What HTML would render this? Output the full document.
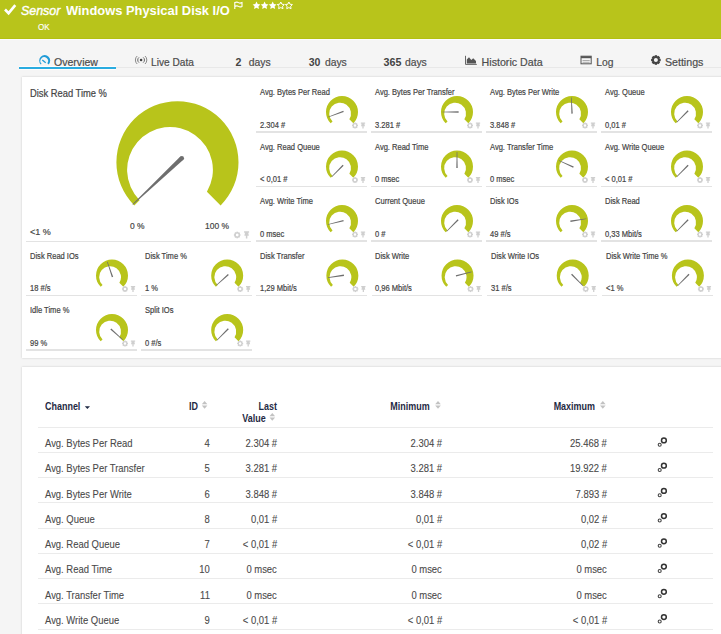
<!DOCTYPE html>
<html><head><meta charset="utf-8"><style>
html,body{margin:0;padding:0;}
body{width:721px;height:634px;overflow:hidden;position:relative;background:#f5f5f5;font-family:"Liberation Sans",sans-serif;}
.t{position:absolute;white-space:nowrap;-webkit-text-stroke:0.2px currentColor;}
svg{position:absolute;left:0;top:0;}
</style></head><body>
<div style="position:absolute;left:0;top:0;width:721px;height:39px;background:#b8c41b"></div><div style="position:absolute;left:0;top:38px;width:721px;height:1px;background:#b3c010"></div><div style="position:absolute;left:0;top:39px;width:721px;height:1px;background:#fcfcfc"></div><div class="t" style="left:21px;top:3.9px;font-size:13px;line-height:13px;color:#fff;font-weight:400;font-style:italic;transform:scaleX(0.955);transform-origin:left center;-webkit-text-stroke:0.4px #fff;">Sensor</div><div class="t" style="left:65.7px;top:3.5px;font-size:13.7px;line-height:13.7px;color:#fff;font-weight:700;font-style:normal;transform:scaleX(0.941);transform-origin:left center;-webkit-text-stroke:0;">Windows Physical Disk I/O</div><div class="t" style="left:37.8px;top:22.57px;font-size:8.3px;line-height:8.3px;color:#fff;font-weight:400;font-style:normal;transform:scaleX(0.97);transform-origin:left center;-webkit-text-stroke:0.15px #fff;">OK</div><div style="position:absolute;left:116px;top:67px;width:605px;height:1px;background:#e8e8e8"></div><div style="position:absolute;left:19px;top:66px;width:97px;height:4px;background:#fdfdfd"></div><div style="position:absolute;left:19px;top:67px;width:97px;height:2px;background:#2aace0"></div><div class="t" style="left:54px;top:57.06px;font-size:10.56px;line-height:10.56px;color:#4d4d4d;font-weight:400;font-style:normal;">Overview</div><div class="t" style="left:151.1px;top:57.81px;font-size:10.15px;line-height:10.15px;color:#4d4d4d;font-weight:400;font-style:normal;">Live Data</div><div class="t" style="left:235.4px;top:57.03px;font-size:10.6px;line-height:10.6px;color:#444;font-weight:700;font-style:normal;-webkit-text-stroke:0;">2</div><div class="t" style="left:248.7px;top:57.62px;font-size:10.37px;line-height:10.37px;color:#4d4d4d;font-weight:400;font-style:normal;">days</div><div class="t" style="left:308.7px;top:57.09px;font-size:10.52px;line-height:10.52px;color:#444;font-weight:700;font-style:normal;-webkit-text-stroke:0;">30</div><div class="t" style="left:324.9px;top:57.62px;font-size:10.37px;line-height:10.37px;color:#4d4d4d;font-weight:400;font-style:normal;">days</div><div class="t" style="left:383.5px;top:56.92px;font-size:10.73px;line-height:10.73px;color:#444;font-weight:700;font-style:normal;-webkit-text-stroke:0;">365</div><div class="t" style="left:404.9px;top:57.62px;font-size:10.37px;line-height:10.37px;color:#4d4d4d;font-weight:400;font-style:normal;">days</div><div class="t" style="left:481.6px;top:56.97px;font-size:10.67px;line-height:10.67px;color:#4d4d4d;font-weight:400;font-style:normal;">Historic Data</div><div class="t" style="left:596.2px;top:57.67px;font-size:10.31px;line-height:10.31px;color:#4d4d4d;font-weight:400;font-style:normal;">Log</div><div class="t" style="left:664.9px;top:56.98px;font-size:10.66px;line-height:10.66px;color:#4d4d4d;font-weight:400;font-style:normal;">Settings</div><div style="position:absolute;left:22px;top:77px;width:720px;height:281px;background:#fff;box-shadow:0 0 2px rgba(0,0,0,0.18)"></div><div style="position:absolute;left:26px;top:240.5px;width:225px;height:1.5px;background:#e3e3e3"></div><div class="t" style="left:29.8px;top:88.87px;font-size:10.2px;line-height:10.2px;color:#454545;font-weight:400;font-style:normal;transform:scaleX(0.918);transform-origin:left center;">Disk Read Time %</div><div class="t" style="left:29.8px;top:227px;font-size:9.8px;line-height:9.8px;color:#454545;font-weight:400;font-style:normal;transform:scaleX(0.92);transform-origin:left center;">&lt;1 %</div><div class="t" style="left:130.4px;top:221.61px;font-size:9.2px;line-height:9.2px;color:#444;font-weight:400;font-style:normal;transform:scaleX(0.92);transform-origin:left center;">0 %</div><div class="t" style="left:205px;top:221.61px;font-size:9.2px;line-height:9.2px;color:#444;font-weight:400;font-style:normal;transform:scaleX(0.92);transform-origin:left center;">100 %</div><div style="position:absolute;left:256px;top:131.15px;width:110.75px;height:1.5px;background:#e3e3e3"></div><div class="t" style="left:259.9px;top:88.29px;font-size:8.4px;line-height:8.4px;color:#454545;font-weight:400;font-style:normal;transform:scaleX(0.9);transform-origin:left center;">Avg. Bytes Per Read</div><div class="t" style="left:259.9px;top:120.79px;font-size:8.4px;line-height:8.4px;color:#454545;font-weight:400;font-style:normal;transform:scaleX(0.9);transform-origin:left center;">2.304 #</div><div style="position:absolute;left:371px;top:131.15px;width:110.75px;height:1.5px;background:#e3e3e3"></div><div class="t" style="left:374.9px;top:88.29px;font-size:8.4px;line-height:8.4px;color:#454545;font-weight:400;font-style:normal;transform:scaleX(0.9);transform-origin:left center;">Avg. Bytes Per Transfer</div><div class="t" style="left:374.9px;top:120.79px;font-size:8.4px;line-height:8.4px;color:#454545;font-weight:400;font-style:normal;transform:scaleX(0.9);transform-origin:left center;">3.281 #</div><div style="position:absolute;left:486px;top:131.15px;width:110.75px;height:1.5px;background:#e3e3e3"></div><div class="t" style="left:489.9px;top:88.29px;font-size:8.4px;line-height:8.4px;color:#454545;font-weight:400;font-style:normal;transform:scaleX(0.9);transform-origin:left center;">Avg. Bytes Per Write</div><div class="t" style="left:489.9px;top:120.79px;font-size:8.4px;line-height:8.4px;color:#454545;font-weight:400;font-style:normal;transform:scaleX(0.9);transform-origin:left center;">3.848 #</div><div style="position:absolute;left:601px;top:131.15px;width:110.75px;height:1.5px;background:#e3e3e3"></div><div class="t" style="left:604.9px;top:88.29px;font-size:8.4px;line-height:8.4px;color:#454545;font-weight:400;font-style:normal;transform:scaleX(0.9);transform-origin:left center;">Avg. Queue</div><div class="t" style="left:604.9px;top:120.79px;font-size:8.4px;line-height:8.4px;color:#454545;font-weight:400;font-style:normal;transform:scaleX(0.9);transform-origin:left center;">0,01 #</div><div style="position:absolute;left:256px;top:185.65px;width:110.75px;height:1.5px;background:#e3e3e3"></div><div class="t" style="left:259.9px;top:142.79px;font-size:8.4px;line-height:8.4px;color:#454545;font-weight:400;font-style:normal;transform:scaleX(0.9);transform-origin:left center;">Avg. Read Queue</div><div class="t" style="left:259.9px;top:175.29px;font-size:8.4px;line-height:8.4px;color:#454545;font-weight:400;font-style:normal;transform:scaleX(0.9);transform-origin:left center;">&lt; 0,01 #</div><div style="position:absolute;left:371px;top:185.65px;width:110.75px;height:1.5px;background:#e3e3e3"></div><div class="t" style="left:374.9px;top:142.79px;font-size:8.4px;line-height:8.4px;color:#454545;font-weight:400;font-style:normal;transform:scaleX(0.9);transform-origin:left center;">Avg. Read Time</div><div class="t" style="left:374.9px;top:175.29px;font-size:8.4px;line-height:8.4px;color:#454545;font-weight:400;font-style:normal;transform:scaleX(0.9);transform-origin:left center;">0 msec</div><div style="position:absolute;left:486px;top:185.65px;width:110.75px;height:1.5px;background:#e3e3e3"></div><div class="t" style="left:489.9px;top:142.79px;font-size:8.4px;line-height:8.4px;color:#454545;font-weight:400;font-style:normal;transform:scaleX(0.9);transform-origin:left center;">Avg. Transfer Time</div><div class="t" style="left:489.9px;top:175.29px;font-size:8.4px;line-height:8.4px;color:#454545;font-weight:400;font-style:normal;transform:scaleX(0.9);transform-origin:left center;">0 msec</div><div style="position:absolute;left:601px;top:185.65px;width:110.75px;height:1.5px;background:#e3e3e3"></div><div class="t" style="left:604.9px;top:142.79px;font-size:8.4px;line-height:8.4px;color:#454545;font-weight:400;font-style:normal;transform:scaleX(0.9);transform-origin:left center;">Avg. Write Queue</div><div class="t" style="left:604.9px;top:175.29px;font-size:8.4px;line-height:8.4px;color:#454545;font-weight:400;font-style:normal;transform:scaleX(0.9);transform-origin:left center;">&lt; 0,01 #</div><div style="position:absolute;left:256px;top:240.15px;width:110.75px;height:1.5px;background:#e3e3e3"></div><div class="t" style="left:259.9px;top:197.29px;font-size:8.4px;line-height:8.4px;color:#454545;font-weight:400;font-style:normal;transform:scaleX(0.9);transform-origin:left center;">Avg. Write Time</div><div class="t" style="left:259.9px;top:229.79px;font-size:8.4px;line-height:8.4px;color:#454545;font-weight:400;font-style:normal;transform:scaleX(0.9);transform-origin:left center;">0 msec</div><div style="position:absolute;left:371px;top:240.15px;width:110.75px;height:1.5px;background:#e3e3e3"></div><div class="t" style="left:374.9px;top:197.29px;font-size:8.4px;line-height:8.4px;color:#454545;font-weight:400;font-style:normal;transform:scaleX(0.9);transform-origin:left center;">Current Queue</div><div class="t" style="left:374.9px;top:229.79px;font-size:8.4px;line-height:8.4px;color:#454545;font-weight:400;font-style:normal;transform:scaleX(0.9);transform-origin:left center;">0 #</div><div style="position:absolute;left:486px;top:240.15px;width:110.75px;height:1.5px;background:#e3e3e3"></div><div class="t" style="left:489.9px;top:197.29px;font-size:8.4px;line-height:8.4px;color:#454545;font-weight:400;font-style:normal;transform:scaleX(0.9);transform-origin:left center;">Disk IOs</div><div class="t" style="left:489.9px;top:229.79px;font-size:8.4px;line-height:8.4px;color:#454545;font-weight:400;font-style:normal;transform:scaleX(0.9);transform-origin:left center;">49 #/s</div><div style="position:absolute;left:601px;top:240.15px;width:110.75px;height:1.5px;background:#e3e3e3"></div><div class="t" style="left:604.9px;top:197.29px;font-size:8.4px;line-height:8.4px;color:#454545;font-weight:400;font-style:normal;transform:scaleX(0.9);transform-origin:left center;">Disk Read</div><div class="t" style="left:604.9px;top:229.79px;font-size:8.4px;line-height:8.4px;color:#454545;font-weight:400;font-style:normal;transform:scaleX(0.9);transform-origin:left center;">0,33 Mbit/s</div><div style="position:absolute;left:26px;top:294.65px;width:110.75px;height:1.5px;background:#e3e3e3"></div><div class="t" style="left:29.9px;top:251.79px;font-size:8.4px;line-height:8.4px;color:#454545;font-weight:400;font-style:normal;transform:scaleX(0.9);transform-origin:left center;">Disk Read IOs</div><div class="t" style="left:29.9px;top:284.29px;font-size:8.4px;line-height:8.4px;color:#454545;font-weight:400;font-style:normal;transform:scaleX(0.9);transform-origin:left center;">18 #/s</div><div style="position:absolute;left:141.18px;top:294.65px;width:110.75px;height:1.5px;background:#e3e3e3"></div><div class="t" style="left:145.08px;top:251.79px;font-size:8.4px;line-height:8.4px;color:#454545;font-weight:400;font-style:normal;transform:scaleX(0.9);transform-origin:left center;">Disk Time %</div><div class="t" style="left:145.08px;top:284.29px;font-size:8.4px;line-height:8.4px;color:#454545;font-weight:400;font-style:normal;transform:scaleX(0.9);transform-origin:left center;">1 %</div><div style="position:absolute;left:256.36px;top:294.65px;width:110.75px;height:1.5px;background:#e3e3e3"></div><div class="t" style="left:260.26px;top:251.79px;font-size:8.4px;line-height:8.4px;color:#454545;font-weight:400;font-style:normal;transform:scaleX(0.9);transform-origin:left center;">Disk Transfer</div><div class="t" style="left:260.26px;top:284.29px;font-size:8.4px;line-height:8.4px;color:#454545;font-weight:400;font-style:normal;transform:scaleX(0.9);transform-origin:left center;">1,29 Mbit/s</div><div style="position:absolute;left:371.54px;top:294.65px;width:110.75px;height:1.5px;background:#e3e3e3"></div><div class="t" style="left:375.44px;top:251.79px;font-size:8.4px;line-height:8.4px;color:#454545;font-weight:400;font-style:normal;transform:scaleX(0.9);transform-origin:left center;">Disk Write</div><div class="t" style="left:375.44px;top:284.29px;font-size:8.4px;line-height:8.4px;color:#454545;font-weight:400;font-style:normal;transform:scaleX(0.9);transform-origin:left center;">0,96 Mbit/s</div><div style="position:absolute;left:486.72px;top:294.65px;width:110.75px;height:1.5px;background:#e3e3e3"></div><div class="t" style="left:490.62px;top:251.79px;font-size:8.4px;line-height:8.4px;color:#454545;font-weight:400;font-style:normal;transform:scaleX(0.9);transform-origin:left center;">Disk Write IOs</div><div class="t" style="left:490.62px;top:284.29px;font-size:8.4px;line-height:8.4px;color:#454545;font-weight:400;font-style:normal;transform:scaleX(0.9);transform-origin:left center;">31 #/s</div><div style="position:absolute;left:601.9px;top:294.65px;width:110.75px;height:1.5px;background:#e3e3e3"></div><div class="t" style="left:605.8px;top:251.79px;font-size:8.4px;line-height:8.4px;color:#454545;font-weight:400;font-style:normal;transform:scaleX(0.9);transform-origin:left center;">Disk Write Time %</div><div class="t" style="left:605.8px;top:284.29px;font-size:8.4px;line-height:8.4px;color:#454545;font-weight:400;font-style:normal;transform:scaleX(0.9);transform-origin:left center;">&lt;1 %</div><div style="position:absolute;left:26px;top:349.15px;width:110.75px;height:1.5px;background:#e3e3e3"></div><div class="t" style="left:29.9px;top:306.29px;font-size:8.4px;line-height:8.4px;color:#454545;font-weight:400;font-style:normal;transform:scaleX(0.9);transform-origin:left center;">Idle Time %</div><div class="t" style="left:29.9px;top:338.79px;font-size:8.4px;line-height:8.4px;color:#454545;font-weight:400;font-style:normal;transform:scaleX(0.9);transform-origin:left center;">99 %</div><div style="position:absolute;left:141.18px;top:349.15px;width:110.75px;height:1.5px;background:#e3e3e3"></div><div class="t" style="left:145.08px;top:306.29px;font-size:8.4px;line-height:8.4px;color:#454545;font-weight:400;font-style:normal;transform:scaleX(0.9);transform-origin:left center;">Split IOs</div><div class="t" style="left:145.08px;top:338.79px;font-size:8.4px;line-height:8.4px;color:#454545;font-weight:400;font-style:normal;transform:scaleX(0.9);transform-origin:left center;">0 #/s</div><div style="position:absolute;left:22px;top:367px;width:720px;height:300px;background:#fff;box-shadow:0 0 2px rgba(0,0,0,0.18)"></div><div class="t" style="left:44.9px;top:402.17px;font-size:10.2px;line-height:10.2px;color:#1f2a44;font-weight:700;font-style:normal;transform:scaleX(0.88);transform-origin:left center;-webkit-text-stroke:0;">Channel</div><div class="t" style="left:188.5px;top:402.17px;font-size:10.2px;line-height:10.2px;color:#1f2a44;font-weight:700;font-style:normal;transform:scaleX(0.88);transform-origin:left center;-webkit-text-stroke:0;">ID</div><div class="t" style="right:444px;top:402.17px;font-size:10.2px;line-height:10.2px;color:#1f2a44;font-weight:700;font-style:normal;transform:scaleX(0.88);transform-origin:right center;-webkit-text-stroke:0;">Last</div><div class="t" style="right:455.6px;top:414.37px;font-size:10.2px;line-height:10.2px;color:#1f2a44;font-weight:700;font-style:normal;transform:scaleX(0.88);transform-origin:right center;-webkit-text-stroke:0;">Value</div><div class="t" style="right:291px;top:402.17px;font-size:10.2px;line-height:10.2px;color:#1f2a44;font-weight:700;font-style:normal;transform:scaleX(0.88);transform-origin:right center;-webkit-text-stroke:0;">Minimum</div><div class="t" style="right:125.8px;top:402.17px;font-size:10.2px;line-height:10.2px;color:#1f2a44;font-weight:700;font-style:normal;transform:scaleX(0.88);transform-origin:right center;-webkit-text-stroke:0;">Maximum</div><div style="position:absolute;left:37.5px;top:427px;width:675px;height:1px;background:#ebebeb"></div><div style="position:absolute;left:37.5px;top:452px;width:675px;height:1px;background:#ebebeb"></div><div class="t" style="left:44.9px;top:438.11px;font-size:10.5px;line-height:10.5px;color:#4a4a4a;font-weight:400;font-style:normal;transform:scaleX(0.9);transform-origin:left center;-webkit-text-stroke:0.1px currentColor;">Avg. Bytes Per Read</div><div class="t" style="right:511.5px;top:438.11px;font-size:10.5px;line-height:10.5px;color:#4a4a4a;font-weight:400;font-style:normal;transform:scaleX(0.9);transform-origin:right center;-webkit-text-stroke:0.1px currentColor;">4</div><div class="t" style="right:444px;top:438.11px;font-size:10.5px;line-height:10.5px;color:#4a4a4a;font-weight:400;font-style:normal;transform:scaleX(0.9);transform-origin:right center;-webkit-text-stroke:0.1px currentColor;">2.304 #</div><div class="t" style="right:278.8px;top:438.11px;font-size:10.5px;line-height:10.5px;color:#4a4a4a;font-weight:400;font-style:normal;transform:scaleX(0.9);transform-origin:right center;-webkit-text-stroke:0.1px currentColor;">2.304 #</div><div class="t" style="right:113.7px;top:438.11px;font-size:10.5px;line-height:10.5px;color:#4a4a4a;font-weight:400;font-style:normal;transform:scaleX(0.9);transform-origin:right center;-webkit-text-stroke:0.1px currentColor;">25.468 #</div><div style="position:absolute;left:37.5px;top:477.24px;width:675px;height:1px;background:#ebebeb"></div><div class="t" style="left:44.9px;top:463.35px;font-size:10.5px;line-height:10.5px;color:#4a4a4a;font-weight:400;font-style:normal;transform:scaleX(0.9);transform-origin:left center;-webkit-text-stroke:0.1px currentColor;">Avg. Bytes Per Transfer</div><div class="t" style="right:511.5px;top:463.35px;font-size:10.5px;line-height:10.5px;color:#4a4a4a;font-weight:400;font-style:normal;transform:scaleX(0.9);transform-origin:right center;-webkit-text-stroke:0.1px currentColor;">5</div><div class="t" style="right:444px;top:463.35px;font-size:10.5px;line-height:10.5px;color:#4a4a4a;font-weight:400;font-style:normal;transform:scaleX(0.9);transform-origin:right center;-webkit-text-stroke:0.1px currentColor;">3.281 #</div><div class="t" style="right:278.8px;top:463.35px;font-size:10.5px;line-height:10.5px;color:#4a4a4a;font-weight:400;font-style:normal;transform:scaleX(0.9);transform-origin:right center;-webkit-text-stroke:0.1px currentColor;">3.281 #</div><div class="t" style="right:113.7px;top:463.35px;font-size:10.5px;line-height:10.5px;color:#4a4a4a;font-weight:400;font-style:normal;transform:scaleX(0.9);transform-origin:right center;-webkit-text-stroke:0.1px currentColor;">19.922 #</div><div style="position:absolute;left:37.5px;top:502.48px;width:675px;height:1px;background:#ebebeb"></div><div class="t" style="left:44.9px;top:488.59px;font-size:10.5px;line-height:10.5px;color:#4a4a4a;font-weight:400;font-style:normal;transform:scaleX(0.9);transform-origin:left center;-webkit-text-stroke:0.1px currentColor;">Avg. Bytes Per Write</div><div class="t" style="right:511.5px;top:488.59px;font-size:10.5px;line-height:10.5px;color:#4a4a4a;font-weight:400;font-style:normal;transform:scaleX(0.9);transform-origin:right center;-webkit-text-stroke:0.1px currentColor;">6</div><div class="t" style="right:444px;top:488.59px;font-size:10.5px;line-height:10.5px;color:#4a4a4a;font-weight:400;font-style:normal;transform:scaleX(0.9);transform-origin:right center;-webkit-text-stroke:0.1px currentColor;">3.848 #</div><div class="t" style="right:278.8px;top:488.59px;font-size:10.5px;line-height:10.5px;color:#4a4a4a;font-weight:400;font-style:normal;transform:scaleX(0.9);transform-origin:right center;-webkit-text-stroke:0.1px currentColor;">3.848 #</div><div class="t" style="right:113.7px;top:488.59px;font-size:10.5px;line-height:10.5px;color:#4a4a4a;font-weight:400;font-style:normal;transform:scaleX(0.9);transform-origin:right center;-webkit-text-stroke:0.1px currentColor;">7.893 #</div><div style="position:absolute;left:37.5px;top:527.72px;width:675px;height:1px;background:#ebebeb"></div><div class="t" style="left:44.9px;top:513.83px;font-size:10.5px;line-height:10.5px;color:#4a4a4a;font-weight:400;font-style:normal;transform:scaleX(0.9);transform-origin:left center;-webkit-text-stroke:0.1px currentColor;">Avg. Queue</div><div class="t" style="right:511.5px;top:513.83px;font-size:10.5px;line-height:10.5px;color:#4a4a4a;font-weight:400;font-style:normal;transform:scaleX(0.9);transform-origin:right center;-webkit-text-stroke:0.1px currentColor;">8</div><div class="t" style="right:444px;top:513.83px;font-size:10.5px;line-height:10.5px;color:#4a4a4a;font-weight:400;font-style:normal;transform:scaleX(0.9);transform-origin:right center;-webkit-text-stroke:0.1px currentColor;">0,01 #</div><div class="t" style="right:278.8px;top:513.83px;font-size:10.5px;line-height:10.5px;color:#4a4a4a;font-weight:400;font-style:normal;transform:scaleX(0.9);transform-origin:right center;-webkit-text-stroke:0.1px currentColor;">0,01 #</div><div class="t" style="right:113.7px;top:513.83px;font-size:10.5px;line-height:10.5px;color:#4a4a4a;font-weight:400;font-style:normal;transform:scaleX(0.9);transform-origin:right center;-webkit-text-stroke:0.1px currentColor;">0,02 #</div><div style="position:absolute;left:37.5px;top:552.96px;width:675px;height:1px;background:#ebebeb"></div><div class="t" style="left:44.9px;top:539.07px;font-size:10.5px;line-height:10.5px;color:#4a4a4a;font-weight:400;font-style:normal;transform:scaleX(0.9);transform-origin:left center;-webkit-text-stroke:0.1px currentColor;">Avg. Read Queue</div><div class="t" style="right:511.5px;top:539.07px;font-size:10.5px;line-height:10.5px;color:#4a4a4a;font-weight:400;font-style:normal;transform:scaleX(0.9);transform-origin:right center;-webkit-text-stroke:0.1px currentColor;">7</div><div class="t" style="right:444px;top:539.07px;font-size:10.5px;line-height:10.5px;color:#4a4a4a;font-weight:400;font-style:normal;transform:scaleX(0.9);transform-origin:right center;-webkit-text-stroke:0.1px currentColor;">&lt; 0,01 #</div><div class="t" style="right:278.8px;top:539.07px;font-size:10.5px;line-height:10.5px;color:#4a4a4a;font-weight:400;font-style:normal;transform:scaleX(0.9);transform-origin:right center;-webkit-text-stroke:0.1px currentColor;">&lt; 0,01 #</div><div class="t" style="right:113.7px;top:539.07px;font-size:10.5px;line-height:10.5px;color:#4a4a4a;font-weight:400;font-style:normal;transform:scaleX(0.9);transform-origin:right center;-webkit-text-stroke:0.1px currentColor;">0,02 #</div><div style="position:absolute;left:37.5px;top:578.2px;width:675px;height:1px;background:#ebebeb"></div><div class="t" style="left:44.9px;top:564.31px;font-size:10.5px;line-height:10.5px;color:#4a4a4a;font-weight:400;font-style:normal;transform:scaleX(0.9);transform-origin:left center;-webkit-text-stroke:0.1px currentColor;">Avg. Read Time</div><div class="t" style="right:511.5px;top:564.31px;font-size:10.5px;line-height:10.5px;color:#4a4a4a;font-weight:400;font-style:normal;transform:scaleX(0.9);transform-origin:right center;-webkit-text-stroke:0.1px currentColor;">10</div><div class="t" style="right:444px;top:564.31px;font-size:10.5px;line-height:10.5px;color:#4a4a4a;font-weight:400;font-style:normal;transform:scaleX(0.9);transform-origin:right center;-webkit-text-stroke:0.1px currentColor;">0 msec</div><div class="t" style="right:278.8px;top:564.31px;font-size:10.5px;line-height:10.5px;color:#4a4a4a;font-weight:400;font-style:normal;transform:scaleX(0.9);transform-origin:right center;-webkit-text-stroke:0.1px currentColor;">0 msec</div><div class="t" style="right:113.7px;top:564.31px;font-size:10.5px;line-height:10.5px;color:#4a4a4a;font-weight:400;font-style:normal;transform:scaleX(0.9);transform-origin:right center;-webkit-text-stroke:0.1px currentColor;">0 msec</div><div style="position:absolute;left:37.5px;top:603.44px;width:675px;height:1px;background:#ebebeb"></div><div class="t" style="left:44.9px;top:589.55px;font-size:10.5px;line-height:10.5px;color:#4a4a4a;font-weight:400;font-style:normal;transform:scaleX(0.9);transform-origin:left center;-webkit-text-stroke:0.1px currentColor;">Avg. Transfer Time</div><div class="t" style="right:511.5px;top:589.55px;font-size:10.5px;line-height:10.5px;color:#4a4a4a;font-weight:400;font-style:normal;transform:scaleX(0.9);transform-origin:right center;-webkit-text-stroke:0.1px currentColor;">11</div><div class="t" style="right:444px;top:589.55px;font-size:10.5px;line-height:10.5px;color:#4a4a4a;font-weight:400;font-style:normal;transform:scaleX(0.9);transform-origin:right center;-webkit-text-stroke:0.1px currentColor;">0 msec</div><div class="t" style="right:278.8px;top:589.55px;font-size:10.5px;line-height:10.5px;color:#4a4a4a;font-weight:400;font-style:normal;transform:scaleX(0.9);transform-origin:right center;-webkit-text-stroke:0.1px currentColor;">0 msec</div><div class="t" style="right:113.7px;top:589.55px;font-size:10.5px;line-height:10.5px;color:#4a4a4a;font-weight:400;font-style:normal;transform:scaleX(0.9);transform-origin:right center;-webkit-text-stroke:0.1px currentColor;">0 msec</div><div style="position:absolute;left:37.5px;top:628.68px;width:675px;height:1px;background:#ebebeb"></div><div class="t" style="left:44.9px;top:614.79px;font-size:10.5px;line-height:10.5px;color:#4a4a4a;font-weight:400;font-style:normal;transform:scaleX(0.9);transform-origin:left center;-webkit-text-stroke:0.1px currentColor;">Avg. Write Queue</div><div class="t" style="right:511.5px;top:614.79px;font-size:10.5px;line-height:10.5px;color:#4a4a4a;font-weight:400;font-style:normal;transform:scaleX(0.9);transform-origin:right center;-webkit-text-stroke:0.1px currentColor;">9</div><div class="t" style="right:444px;top:614.79px;font-size:10.5px;line-height:10.5px;color:#4a4a4a;font-weight:400;font-style:normal;transform:scaleX(0.9);transform-origin:right center;-webkit-text-stroke:0.1px currentColor;">&lt; 0,01 #</div><div class="t" style="right:278.8px;top:614.79px;font-size:10.5px;line-height:10.5px;color:#4a4a4a;font-weight:400;font-style:normal;transform:scaleX(0.9);transform-origin:right center;-webkit-text-stroke:0.1px currentColor;">&lt; 0,01 #</div><div class="t" style="right:113.7px;top:614.79px;font-size:10.5px;line-height:10.5px;color:#4a4a4a;font-weight:400;font-style:normal;transform:scaleX(0.9);transform-origin:right center;-webkit-text-stroke:0.1px currentColor;">&lt; 0,01 #</div>
<svg width="721" height="634" viewBox="0 0 721 634"><path d="M5 9.5L8.6 13.2L15.3 5.2" fill="none" stroke="#fff" stroke-width="2.6"/><path d="M234.8 2V9M234.8 2.6Q237 1.6 238.5 2.6T242 2.6V6.4Q240 7.4 238.5 6.4T234.8 6.4" fill="none" stroke="#fff" stroke-width="1.1"/><path d="M256.5 1.6L257.7 4.04L260.4 4.43L258.45 6.33L258.91 9.02L256.5 7.75L254.09 9.02L254.55 6.33L252.6 4.43L255.3 4.04Z" fill="#fff"/><path d="M264.6 1.6L265.8 4.04L268.5 4.43L266.55 6.33L267.01 9.02L264.6 7.75L262.19 9.02L262.65 6.33L260.7 4.43L263.4 4.04Z" fill="#fff"/><path d="M272.7 1.6L273.9 4.04L276.6 4.43L274.65 6.33L275.11 9.02L272.7 7.75L270.29 9.02L270.75 6.33L268.8 4.43L271.5 4.04Z" fill="#fff"/><path d="M280.8 2L281.89 4.2L284.32 4.56L282.56 6.27L282.97 8.69L280.8 7.55L278.63 8.69L279.04 6.27L277.28 4.56L279.71 4.2Z" fill="none" stroke="#fff" stroke-width="1" stroke-linejoin="round"/><path d="M288.9 2L289.99 4.2L292.42 4.56L290.66 6.27L291.07 8.69L288.9 7.55L286.73 8.69L287.14 6.27L285.38 4.56L287.81 4.2Z" fill="none" stroke="#fff" stroke-width="1" stroke-linejoin="round"/><path d="M40.81 64.49A5.5 5.5 0 1 1 48.59 64.49L47.37 63.27A3.8 3.8 0 1 0 41.54 63.76Z" fill="#1f9bd7"/><path d="M42.3 60.1L45.7 62.7" stroke="#1f9bd7" stroke-width="1.3"/><circle cx="141.1" cy="60" r="1.3" fill="#444"/><path d="M139 57.4A3.3 3.3 0 0 0 139 62.6M143.2 57.4A3.3 3.3 0 0 1 143.2 62.6" fill="none" stroke="#666" stroke-width="1"/><path d="M137.2 56A5.3 5.3 0 0 0 137.2 64M145 56A5.3 5.3 0 0 1 145 64" fill="none" stroke="#8a8a8a" stroke-width="1"/><path d="M465.5 55.8V64.4H476.8" fill="none" stroke="#666" stroke-width="1"/><path d="M466.8 63.6V59.5L469 57.2L471.3 60L473.2 58.3L476 61V63.6Z" fill="#555"/><rect x="581" y="56.2" width="10.2" height="7.6" fill="none" stroke="#555" stroke-width="1"/><rect x="581" y="56.2" width="10.2" height="2" fill="#555"/><path d="M582.5 60.5H589.7M582.5 62.3H589.7" stroke="#999" stroke-width="0.8"/><line x1="658.54" y1="60" x2="660.7" y2="60" stroke="#444" stroke-width="2.4"/><line x1="657.77" y1="61.87" x2="659.29" y2="63.39" stroke="#444" stroke-width="2.4"/><line x1="655.9" y1="62.64" x2="655.9" y2="64.8" stroke="#444" stroke-width="2.4"/><line x1="654.03" y1="61.87" x2="652.51" y2="63.39" stroke="#444" stroke-width="2.4"/><line x1="653.26" y1="60" x2="651.1" y2="60" stroke="#444" stroke-width="2.4"/><line x1="654.03" y1="58.13" x2="652.51" y2="56.61" stroke="#444" stroke-width="2.4"/><line x1="655.9" y1="57.36" x2="655.9" y2="55.2" stroke="#444" stroke-width="2.4"/><line x1="657.77" y1="58.13" x2="659.29" y2="56.61" stroke="#444" stroke-width="2.4"/><circle cx="655.9" cy="60" r="2.98" fill="none" stroke="#444" stroke-width="1.92"/><path d="M134.28 205.42A61.05 61.05 0 1 1 220.62 205.42L206.93 191.73A42.9 42.9 0 1 0 139.57 200.13Z" fill="#b8c41b"/><path d="M180.3 156.53L132.44 204.16L133.06 204.82L183.32 159.73Z" fill="#6e6e6e"/><circle cx="181.81" cy="158.13" r="2.2" fill="#6e6e6e"/><line x1="239.01" y1="235" x2="240.5" y2="235" stroke="#cfcfcf" stroke-width="1.65"/><line x1="238.48" y1="236.28" x2="239.53" y2="237.33" stroke="#cfcfcf" stroke-width="1.65"/><line x1="237.2" y1="236.81" x2="237.2" y2="238.3" stroke="#cfcfcf" stroke-width="1.65"/><line x1="235.92" y1="236.28" x2="234.87" y2="237.33" stroke="#cfcfcf" stroke-width="1.65"/><line x1="235.38" y1="235" x2="233.9" y2="235" stroke="#cfcfcf" stroke-width="1.65"/><line x1="235.92" y1="233.72" x2="234.87" y2="232.67" stroke="#cfcfcf" stroke-width="1.65"/><line x1="237.2" y1="233.19" x2="237.2" y2="231.7" stroke="#cfcfcf" stroke-width="1.65"/><line x1="238.48" y1="233.72" x2="239.53" y2="232.67" stroke="#cfcfcf" stroke-width="1.65"/><circle cx="237.2" cy="235" r="2.05" fill="none" stroke="#cfcfcf" stroke-width="1.32"/><path d="M244.1 232H249.1M246.6 232V238.5" stroke="#cfcfcf" stroke-width="1.5"/><path d="M245.1 232.25H248.1L248.85 235.75H244.35Z" fill="#cfcfcf"/><path d="M330.69 123.31A16 16 0 1 1 353.31 123.31L349.36 119.36A10.9 10.9 0 1 0 332.54 121.46Z" fill="#b8c41b"/><path d="M343.26 110.79L328.28 116.72L328.49 117.28L343.74 112.11Z" fill="#6e6e6e"/><line x1="356.65" y1="125.6" x2="358" y2="125.6" stroke="#cfcfcf" stroke-width="1.5"/><line x1="356.17" y1="126.77" x2="357.12" y2="127.72" stroke="#cfcfcf" stroke-width="1.5"/><line x1="355" y1="127.25" x2="355" y2="128.6" stroke="#cfcfcf" stroke-width="1.5"/><line x1="353.83" y1="126.77" x2="352.88" y2="127.72" stroke="#cfcfcf" stroke-width="1.5"/><line x1="353.35" y1="125.6" x2="352" y2="125.6" stroke="#cfcfcf" stroke-width="1.5"/><line x1="353.83" y1="124.43" x2="352.88" y2="123.48" stroke="#cfcfcf" stroke-width="1.5"/><line x1="355" y1="123.95" x2="355" y2="122.6" stroke="#cfcfcf" stroke-width="1.5"/><line x1="356.17" y1="124.43" x2="357.12" y2="123.48" stroke="#cfcfcf" stroke-width="1.5"/><circle cx="355" cy="125.6" r="1.86" fill="none" stroke="#cfcfcf" stroke-width="1.2"/><path d="M360.85 123.02H365.15M363 123.02V128.61" stroke="#cfcfcf" stroke-width="1.29"/><path d="M361.71 123.24H364.29L364.94 126.25H361.06Z" fill="#cfcfcf"/><path d="M445.69 123.31A16 16 0 1 1 468.31 123.31L464.36 119.36A10.9 10.9 0 1 0 447.54 121.46Z" fill="#b8c41b"/><path d="M458.6 111.3L442.5 111.68L442.5 112.28L458.6 112.7Z" fill="#6e6e6e"/><line x1="471.65" y1="125.6" x2="473" y2="125.6" stroke="#cfcfcf" stroke-width="1.5"/><line x1="471.17" y1="126.77" x2="472.12" y2="127.72" stroke="#cfcfcf" stroke-width="1.5"/><line x1="470" y1="127.25" x2="470" y2="128.6" stroke="#cfcfcf" stroke-width="1.5"/><line x1="468.83" y1="126.77" x2="467.88" y2="127.72" stroke="#cfcfcf" stroke-width="1.5"/><line x1="468.35" y1="125.6" x2="467" y2="125.6" stroke="#cfcfcf" stroke-width="1.5"/><line x1="468.83" y1="124.43" x2="467.88" y2="123.48" stroke="#cfcfcf" stroke-width="1.5"/><line x1="470" y1="123.95" x2="470" y2="122.6" stroke="#cfcfcf" stroke-width="1.5"/><line x1="471.17" y1="124.43" x2="472.12" y2="123.48" stroke="#cfcfcf" stroke-width="1.5"/><circle cx="470" cy="125.6" r="1.86" fill="none" stroke="#cfcfcf" stroke-width="1.2"/><path d="M475.85 123.02H480.15M478 123.02V128.61" stroke="#cfcfcf" stroke-width="1.29"/><path d="M476.71 123.24H479.29L479.94 126.25H476.06Z" fill="#cfcfcf"/><path d="M560.69 123.31A16 16 0 1 1 583.31 123.31L579.36 119.36A10.9 10.9 0 1 0 562.54 121.46Z" fill="#b8c41b"/><path d="M572.77 113.57L571.62 97.5L571.02 97.53L571.38 113.63Z" fill="#6e6e6e"/><line x1="586.65" y1="125.6" x2="588" y2="125.6" stroke="#cfcfcf" stroke-width="1.5"/><line x1="586.17" y1="126.77" x2="587.12" y2="127.72" stroke="#cfcfcf" stroke-width="1.5"/><line x1="585" y1="127.25" x2="585" y2="128.6" stroke="#cfcfcf" stroke-width="1.5"/><line x1="583.83" y1="126.77" x2="582.88" y2="127.72" stroke="#cfcfcf" stroke-width="1.5"/><line x1="583.35" y1="125.6" x2="582" y2="125.6" stroke="#cfcfcf" stroke-width="1.5"/><line x1="583.83" y1="124.43" x2="582.88" y2="123.48" stroke="#cfcfcf" stroke-width="1.5"/><line x1="585" y1="123.95" x2="585" y2="122.6" stroke="#cfcfcf" stroke-width="1.5"/><line x1="586.17" y1="124.43" x2="587.12" y2="123.48" stroke="#cfcfcf" stroke-width="1.5"/><circle cx="585" cy="125.6" r="1.86" fill="none" stroke="#cfcfcf" stroke-width="1.2"/><path d="M590.85 123.02H595.15M593 123.02V128.61" stroke="#cfcfcf" stroke-width="1.29"/><path d="M591.71 123.24H594.29L594.93 126.25H591.07Z" fill="#cfcfcf"/><path d="M675.69 123.31A16 16 0 1 1 698.31 123.31L694.36 119.36A10.9 10.9 0 1 0 677.54 121.46Z" fill="#b8c41b"/><path d="M687.64 110.37L676.53 122.04L676.96 122.47L688.63 111.36Z" fill="#6e6e6e"/><line x1="701.65" y1="125.6" x2="703" y2="125.6" stroke="#cfcfcf" stroke-width="1.5"/><line x1="701.17" y1="126.77" x2="702.12" y2="127.72" stroke="#cfcfcf" stroke-width="1.5"/><line x1="700" y1="127.25" x2="700" y2="128.6" stroke="#cfcfcf" stroke-width="1.5"/><line x1="698.83" y1="126.77" x2="697.88" y2="127.72" stroke="#cfcfcf" stroke-width="1.5"/><line x1="698.35" y1="125.6" x2="697" y2="125.6" stroke="#cfcfcf" stroke-width="1.5"/><line x1="698.83" y1="124.43" x2="697.88" y2="123.48" stroke="#cfcfcf" stroke-width="1.5"/><line x1="700" y1="123.95" x2="700" y2="122.6" stroke="#cfcfcf" stroke-width="1.5"/><line x1="701.17" y1="124.43" x2="702.12" y2="123.48" stroke="#cfcfcf" stroke-width="1.5"/><circle cx="700" cy="125.6" r="1.86" fill="none" stroke="#cfcfcf" stroke-width="1.2"/><path d="M705.85 123.02H710.15M708 123.02V128.61" stroke="#cfcfcf" stroke-width="1.29"/><path d="M706.71 123.24H709.29L709.93 126.25H706.07Z" fill="#cfcfcf"/><path d="M330.69 177.81A16 16 0 1 1 353.31 177.81L349.36 173.86A10.9 10.9 0 1 0 332.54 175.96Z" fill="#b8c41b"/><path d="M342.64 164.87L331.53 176.54L331.96 176.97L343.63 165.86Z" fill="#6e6e6e"/><line x1="356.65" y1="180.1" x2="358" y2="180.1" stroke="#cfcfcf" stroke-width="1.5"/><line x1="356.17" y1="181.27" x2="357.12" y2="182.22" stroke="#cfcfcf" stroke-width="1.5"/><line x1="355" y1="181.75" x2="355" y2="183.1" stroke="#cfcfcf" stroke-width="1.5"/><line x1="353.83" y1="181.27" x2="352.88" y2="182.22" stroke="#cfcfcf" stroke-width="1.5"/><line x1="353.35" y1="180.1" x2="352" y2="180.1" stroke="#cfcfcf" stroke-width="1.5"/><line x1="353.83" y1="178.93" x2="352.88" y2="177.98" stroke="#cfcfcf" stroke-width="1.5"/><line x1="355" y1="178.45" x2="355" y2="177.1" stroke="#cfcfcf" stroke-width="1.5"/><line x1="356.17" y1="178.93" x2="357.12" y2="177.98" stroke="#cfcfcf" stroke-width="1.5"/><circle cx="355" cy="180.1" r="1.86" fill="none" stroke="#cfcfcf" stroke-width="1.2"/><path d="M360.85 177.52H365.15M363 177.52V183.11" stroke="#cfcfcf" stroke-width="1.29"/><path d="M361.71 177.74H364.29L364.94 180.75H361.06Z" fill="#cfcfcf"/><path d="M445.69 177.81A16 16 0 1 1 468.31 177.81L464.36 173.86A10.9 10.9 0 1 0 447.54 175.96Z" fill="#b8c41b"/><path d="M457.7 168.1L457.3 152L456.7 152L456.3 168.1Z" fill="#6e6e6e"/><line x1="471.65" y1="180.1" x2="473" y2="180.1" stroke="#cfcfcf" stroke-width="1.5"/><line x1="471.17" y1="181.27" x2="472.12" y2="182.22" stroke="#cfcfcf" stroke-width="1.5"/><line x1="470" y1="181.75" x2="470" y2="183.1" stroke="#cfcfcf" stroke-width="1.5"/><line x1="468.83" y1="181.27" x2="467.88" y2="182.22" stroke="#cfcfcf" stroke-width="1.5"/><line x1="468.35" y1="180.1" x2="467" y2="180.1" stroke="#cfcfcf" stroke-width="1.5"/><line x1="468.83" y1="178.93" x2="467.88" y2="177.98" stroke="#cfcfcf" stroke-width="1.5"/><line x1="470" y1="178.45" x2="470" y2="177.1" stroke="#cfcfcf" stroke-width="1.5"/><line x1="471.17" y1="178.93" x2="472.12" y2="177.98" stroke="#cfcfcf" stroke-width="1.5"/><circle cx="470" cy="180.1" r="1.86" fill="none" stroke="#cfcfcf" stroke-width="1.2"/><path d="M475.85 177.52H480.15M478 177.52V183.11" stroke="#cfcfcf" stroke-width="1.29"/><path d="M476.71 177.74H479.29L479.94 180.75H476.06Z" fill="#cfcfcf"/><path d="M560.69 177.81A16 16 0 1 1 583.31 177.81L579.36 173.86A10.9 10.9 0 1 0 562.54 175.96Z" fill="#b8c41b"/><path d="M573.75 166.53L558.95 160.18L558.7 160.72L573.16 167.8Z" fill="#6e6e6e"/><line x1="586.65" y1="180.1" x2="588" y2="180.1" stroke="#cfcfcf" stroke-width="1.5"/><line x1="586.17" y1="181.27" x2="587.12" y2="182.22" stroke="#cfcfcf" stroke-width="1.5"/><line x1="585" y1="181.75" x2="585" y2="183.1" stroke="#cfcfcf" stroke-width="1.5"/><line x1="583.83" y1="181.27" x2="582.88" y2="182.22" stroke="#cfcfcf" stroke-width="1.5"/><line x1="583.35" y1="180.1" x2="582" y2="180.1" stroke="#cfcfcf" stroke-width="1.5"/><line x1="583.83" y1="178.93" x2="582.88" y2="177.98" stroke="#cfcfcf" stroke-width="1.5"/><line x1="585" y1="178.45" x2="585" y2="177.1" stroke="#cfcfcf" stroke-width="1.5"/><line x1="586.17" y1="178.93" x2="587.12" y2="177.98" stroke="#cfcfcf" stroke-width="1.5"/><circle cx="585" cy="180.1" r="1.86" fill="none" stroke="#cfcfcf" stroke-width="1.2"/><path d="M590.85 177.52H595.15M593 177.52V183.11" stroke="#cfcfcf" stroke-width="1.29"/><path d="M591.71 177.74H594.29L594.93 180.75H591.07Z" fill="#cfcfcf"/><path d="M675.69 177.81A16 16 0 1 1 698.31 177.81L694.36 173.86A10.9 10.9 0 1 0 677.54 175.96Z" fill="#b8c41b"/><path d="M687.64 164.87L676.53 176.54L676.96 176.97L688.63 165.86Z" fill="#6e6e6e"/><line x1="701.65" y1="180.1" x2="703" y2="180.1" stroke="#cfcfcf" stroke-width="1.5"/><line x1="701.17" y1="181.27" x2="702.12" y2="182.22" stroke="#cfcfcf" stroke-width="1.5"/><line x1="700" y1="181.75" x2="700" y2="183.1" stroke="#cfcfcf" stroke-width="1.5"/><line x1="698.83" y1="181.27" x2="697.88" y2="182.22" stroke="#cfcfcf" stroke-width="1.5"/><line x1="698.35" y1="180.1" x2="697" y2="180.1" stroke="#cfcfcf" stroke-width="1.5"/><line x1="698.83" y1="178.93" x2="697.88" y2="177.98" stroke="#cfcfcf" stroke-width="1.5"/><line x1="700" y1="178.45" x2="700" y2="177.1" stroke="#cfcfcf" stroke-width="1.5"/><line x1="701.17" y1="178.93" x2="702.12" y2="177.98" stroke="#cfcfcf" stroke-width="1.5"/><circle cx="700" cy="180.1" r="1.86" fill="none" stroke="#cfcfcf" stroke-width="1.2"/><path d="M705.85 177.52H710.15M708 177.52V183.11" stroke="#cfcfcf" stroke-width="1.29"/><path d="M706.71 177.74H709.29L709.93 180.75H706.07Z" fill="#cfcfcf"/><path d="M330.69 232.31A16 16 0 1 1 353.31 232.31L349.36 228.36A10.9 10.9 0 1 0 332.54 230.46Z" fill="#b8c41b"/><path d="M343.39 219.94L327.84 224.14L327.98 224.72L343.72 221.3Z" fill="#6e6e6e"/><line x1="356.65" y1="234.6" x2="358" y2="234.6" stroke="#cfcfcf" stroke-width="1.5"/><line x1="356.17" y1="235.77" x2="357.12" y2="236.72" stroke="#cfcfcf" stroke-width="1.5"/><line x1="355" y1="236.25" x2="355" y2="237.6" stroke="#cfcfcf" stroke-width="1.5"/><line x1="353.83" y1="235.77" x2="352.88" y2="236.72" stroke="#cfcfcf" stroke-width="1.5"/><line x1="353.35" y1="234.6" x2="352" y2="234.6" stroke="#cfcfcf" stroke-width="1.5"/><line x1="353.83" y1="233.43" x2="352.88" y2="232.48" stroke="#cfcfcf" stroke-width="1.5"/><line x1="355" y1="232.95" x2="355" y2="231.6" stroke="#cfcfcf" stroke-width="1.5"/><line x1="356.17" y1="233.43" x2="357.12" y2="232.48" stroke="#cfcfcf" stroke-width="1.5"/><circle cx="355" cy="234.6" r="1.86" fill="none" stroke="#cfcfcf" stroke-width="1.2"/><path d="M360.85 232.02H365.15M363 232.02V237.61" stroke="#cfcfcf" stroke-width="1.29"/><path d="M361.71 232.24H364.29L364.94 235.25H361.06Z" fill="#cfcfcf"/><path d="M445.69 232.31A16 16 0 1 1 468.31 232.31L464.36 228.36A10.9 10.9 0 1 0 447.54 230.46Z" fill="#b8c41b"/><path d="M457.64 219.37L446.53 231.04L446.96 231.47L458.63 220.36Z" fill="#6e6e6e"/><line x1="471.65" y1="234.6" x2="473" y2="234.6" stroke="#cfcfcf" stroke-width="1.5"/><line x1="471.17" y1="235.77" x2="472.12" y2="236.72" stroke="#cfcfcf" stroke-width="1.5"/><line x1="470" y1="236.25" x2="470" y2="237.6" stroke="#cfcfcf" stroke-width="1.5"/><line x1="468.83" y1="235.77" x2="467.88" y2="236.72" stroke="#cfcfcf" stroke-width="1.5"/><line x1="468.35" y1="234.6" x2="467" y2="234.6" stroke="#cfcfcf" stroke-width="1.5"/><line x1="468.83" y1="233.43" x2="467.88" y2="232.48" stroke="#cfcfcf" stroke-width="1.5"/><line x1="470" y1="232.95" x2="470" y2="231.6" stroke="#cfcfcf" stroke-width="1.5"/><line x1="471.17" y1="233.43" x2="472.12" y2="232.48" stroke="#cfcfcf" stroke-width="1.5"/><circle cx="470" cy="234.6" r="1.86" fill="none" stroke="#cfcfcf" stroke-width="1.2"/><path d="M475.85 232.02H480.15M478 232.02V237.61" stroke="#cfcfcf" stroke-width="1.29"/><path d="M476.71 232.24H479.29L479.94 235.25H476.06Z" fill="#cfcfcf"/><path d="M560.69 232.31A16 16 0 1 1 583.31 232.31L579.36 228.36A10.9 10.9 0 1 0 562.54 230.46Z" fill="#b8c41b"/><path d="M570.53 221.94L586.37 219.03L586.27 218.44L570.31 220.56Z" fill="#6e6e6e"/><line x1="586.65" y1="234.6" x2="588" y2="234.6" stroke="#cfcfcf" stroke-width="1.5"/><line x1="586.17" y1="235.77" x2="587.12" y2="236.72" stroke="#cfcfcf" stroke-width="1.5"/><line x1="585" y1="236.25" x2="585" y2="237.6" stroke="#cfcfcf" stroke-width="1.5"/><line x1="583.83" y1="235.77" x2="582.88" y2="236.72" stroke="#cfcfcf" stroke-width="1.5"/><line x1="583.35" y1="234.6" x2="582" y2="234.6" stroke="#cfcfcf" stroke-width="1.5"/><line x1="583.83" y1="233.43" x2="582.88" y2="232.48" stroke="#cfcfcf" stroke-width="1.5"/><line x1="585" y1="232.95" x2="585" y2="231.6" stroke="#cfcfcf" stroke-width="1.5"/><line x1="586.17" y1="233.43" x2="587.12" y2="232.48" stroke="#cfcfcf" stroke-width="1.5"/><circle cx="585" cy="234.6" r="1.86" fill="none" stroke="#cfcfcf" stroke-width="1.2"/><path d="M590.85 232.02H595.15M593 232.02V237.61" stroke="#cfcfcf" stroke-width="1.29"/><path d="M591.71 232.24H594.29L594.93 235.25H591.07Z" fill="#cfcfcf"/><path d="M675.69 232.31A16 16 0 1 1 698.31 232.31L694.36 228.36A10.9 10.9 0 1 0 677.54 230.46Z" fill="#b8c41b"/><path d="M687.64 219.37L676.53 231.04L676.96 231.47L688.63 220.36Z" fill="#6e6e6e"/><line x1="701.65" y1="234.6" x2="703" y2="234.6" stroke="#cfcfcf" stroke-width="1.5"/><line x1="701.17" y1="235.77" x2="702.12" y2="236.72" stroke="#cfcfcf" stroke-width="1.5"/><line x1="700" y1="236.25" x2="700" y2="237.6" stroke="#cfcfcf" stroke-width="1.5"/><line x1="698.83" y1="235.77" x2="697.88" y2="236.72" stroke="#cfcfcf" stroke-width="1.5"/><line x1="698.35" y1="234.6" x2="697" y2="234.6" stroke="#cfcfcf" stroke-width="1.5"/><line x1="698.83" y1="233.43" x2="697.88" y2="232.48" stroke="#cfcfcf" stroke-width="1.5"/><line x1="700" y1="232.95" x2="700" y2="231.6" stroke="#cfcfcf" stroke-width="1.5"/><line x1="701.17" y1="233.43" x2="702.12" y2="232.48" stroke="#cfcfcf" stroke-width="1.5"/><circle cx="700" cy="234.6" r="1.86" fill="none" stroke="#cfcfcf" stroke-width="1.2"/><path d="M705.85 232.02H710.15M708 232.02V237.61" stroke="#cfcfcf" stroke-width="1.29"/><path d="M706.71 232.24H709.29L709.93 235.25H706.07Z" fill="#cfcfcf"/><path d="M100.69 286.81A16 16 0 1 1 123.31 286.81L119.36 282.86A10.9 10.9 0 1 0 102.54 284.96Z" fill="#b8c41b"/><path d="M113.18 276.79L107.59 261.68L107.02 261.88L111.86 277.24Z" fill="#6e6e6e"/><line x1="126.65" y1="289.1" x2="128" y2="289.1" stroke="#cfcfcf" stroke-width="1.5"/><line x1="126.17" y1="290.27" x2="127.12" y2="291.22" stroke="#cfcfcf" stroke-width="1.5"/><line x1="125" y1="290.75" x2="125" y2="292.1" stroke="#cfcfcf" stroke-width="1.5"/><line x1="123.83" y1="290.27" x2="122.88" y2="291.22" stroke="#cfcfcf" stroke-width="1.5"/><line x1="123.35" y1="289.1" x2="122" y2="289.1" stroke="#cfcfcf" stroke-width="1.5"/><line x1="123.83" y1="287.93" x2="122.88" y2="286.98" stroke="#cfcfcf" stroke-width="1.5"/><line x1="125" y1="287.45" x2="125" y2="286.1" stroke="#cfcfcf" stroke-width="1.5"/><line x1="126.17" y1="287.93" x2="127.12" y2="286.98" stroke="#cfcfcf" stroke-width="1.5"/><circle cx="125" cy="289.1" r="1.86" fill="none" stroke="#cfcfcf" stroke-width="1.2"/><path d="M130.85 286.52H135.15M133 286.52V292.11" stroke="#cfcfcf" stroke-width="1.29"/><path d="M131.71 286.73H134.29L134.94 289.74H131.06Z" fill="#cfcfcf"/><path d="M215.87 286.81A16 16 0 1 1 238.49 286.81L234.54 282.86A10.9 10.9 0 1 0 217.72 284.96Z" fill="#b8c41b"/><path d="M227.89 273.91L216.25 285.04L216.66 285.48L228.83 274.94Z" fill="#6e6e6e"/><line x1="241.83" y1="289.1" x2="243.18" y2="289.1" stroke="#cfcfcf" stroke-width="1.5"/><line x1="241.35" y1="290.27" x2="242.3" y2="291.22" stroke="#cfcfcf" stroke-width="1.5"/><line x1="240.18" y1="290.75" x2="240.18" y2="292.1" stroke="#cfcfcf" stroke-width="1.5"/><line x1="239.01" y1="290.27" x2="238.06" y2="291.22" stroke="#cfcfcf" stroke-width="1.5"/><line x1="238.53" y1="289.1" x2="237.18" y2="289.1" stroke="#cfcfcf" stroke-width="1.5"/><line x1="239.01" y1="287.93" x2="238.06" y2="286.98" stroke="#cfcfcf" stroke-width="1.5"/><line x1="240.18" y1="287.45" x2="240.18" y2="286.1" stroke="#cfcfcf" stroke-width="1.5"/><line x1="241.35" y1="287.93" x2="242.3" y2="286.98" stroke="#cfcfcf" stroke-width="1.5"/><circle cx="240.18" cy="289.1" r="1.86" fill="none" stroke="#cfcfcf" stroke-width="1.2"/><path d="M246.03 286.52H250.33M248.18 286.52V292.11" stroke="#cfcfcf" stroke-width="1.29"/><path d="M246.89 286.73H249.47L250.12 289.74H246.25Z" fill="#cfcfcf"/><path d="M331.05 286.81A16 16 0 1 1 353.67 286.81L349.72 282.86A10.9 10.9 0 1 0 332.9 284.96Z" fill="#b8c41b"/><path d="M343.84 274.58L327.97 277.29L328.05 277.89L344.04 275.96Z" fill="#6e6e6e"/><line x1="357.01" y1="289.1" x2="358.36" y2="289.1" stroke="#cfcfcf" stroke-width="1.5"/><line x1="356.53" y1="290.27" x2="357.48" y2="291.22" stroke="#cfcfcf" stroke-width="1.5"/><line x1="355.36" y1="290.75" x2="355.36" y2="292.1" stroke="#cfcfcf" stroke-width="1.5"/><line x1="354.19" y1="290.27" x2="353.24" y2="291.22" stroke="#cfcfcf" stroke-width="1.5"/><line x1="353.71" y1="289.1" x2="352.36" y2="289.1" stroke="#cfcfcf" stroke-width="1.5"/><line x1="354.19" y1="287.93" x2="353.24" y2="286.98" stroke="#cfcfcf" stroke-width="1.5"/><line x1="355.36" y1="287.45" x2="355.36" y2="286.1" stroke="#cfcfcf" stroke-width="1.5"/><line x1="356.53" y1="287.93" x2="357.48" y2="286.98" stroke="#cfcfcf" stroke-width="1.5"/><circle cx="355.36" cy="289.1" r="1.86" fill="none" stroke="#cfcfcf" stroke-width="1.2"/><path d="M361.21 286.52H365.51M363.36 286.52V292.11" stroke="#cfcfcf" stroke-width="1.29"/><path d="M362.07 286.73H364.65L365.3 289.74H361.43Z" fill="#cfcfcf"/><path d="M446.23 286.81A16 16 0 1 1 468.85 286.81L464.9 282.86A10.9 10.9 0 1 0 448.08 284.96Z" fill="#b8c41b"/><path d="M456.16 276.58L471.66 272.18L471.51 271.6L455.82 275.22Z" fill="#6e6e6e"/><line x1="472.19" y1="289.1" x2="473.54" y2="289.1" stroke="#cfcfcf" stroke-width="1.5"/><line x1="471.71" y1="290.27" x2="472.66" y2="291.22" stroke="#cfcfcf" stroke-width="1.5"/><line x1="470.54" y1="290.75" x2="470.54" y2="292.1" stroke="#cfcfcf" stroke-width="1.5"/><line x1="469.37" y1="290.27" x2="468.42" y2="291.22" stroke="#cfcfcf" stroke-width="1.5"/><line x1="468.89" y1="289.1" x2="467.54" y2="289.1" stroke="#cfcfcf" stroke-width="1.5"/><line x1="469.37" y1="287.93" x2="468.42" y2="286.98" stroke="#cfcfcf" stroke-width="1.5"/><line x1="470.54" y1="287.45" x2="470.54" y2="286.1" stroke="#cfcfcf" stroke-width="1.5"/><line x1="471.71" y1="287.93" x2="472.66" y2="286.98" stroke="#cfcfcf" stroke-width="1.5"/><circle cx="470.54" cy="289.1" r="1.86" fill="none" stroke="#cfcfcf" stroke-width="1.2"/><path d="M476.39 286.52H480.69M478.54 286.52V292.11" stroke="#cfcfcf" stroke-width="1.29"/><path d="M477.25 286.73H479.83L480.48 289.74H476.61Z" fill="#cfcfcf"/><path d="M561.41 286.81A16 16 0 1 1 584.03 286.81L580.08 282.86A10.9 10.9 0 1 0 563.26 284.96Z" fill="#b8c41b"/><path d="M571.09 274.86L582.76 285.97L583.19 285.54L572.08 273.87Z" fill="#6e6e6e"/><line x1="587.37" y1="289.1" x2="588.72" y2="289.1" stroke="#cfcfcf" stroke-width="1.5"/><line x1="586.89" y1="290.27" x2="587.84" y2="291.22" stroke="#cfcfcf" stroke-width="1.5"/><line x1="585.72" y1="290.75" x2="585.72" y2="292.1" stroke="#cfcfcf" stroke-width="1.5"/><line x1="584.55" y1="290.27" x2="583.6" y2="291.22" stroke="#cfcfcf" stroke-width="1.5"/><line x1="584.07" y1="289.1" x2="582.72" y2="289.1" stroke="#cfcfcf" stroke-width="1.5"/><line x1="584.55" y1="287.93" x2="583.6" y2="286.98" stroke="#cfcfcf" stroke-width="1.5"/><line x1="585.72" y1="287.45" x2="585.72" y2="286.1" stroke="#cfcfcf" stroke-width="1.5"/><line x1="586.89" y1="287.93" x2="587.84" y2="286.98" stroke="#cfcfcf" stroke-width="1.5"/><circle cx="585.72" cy="289.1" r="1.86" fill="none" stroke="#cfcfcf" stroke-width="1.2"/><path d="M591.57 286.52H595.87M593.72 286.52V292.11" stroke="#cfcfcf" stroke-width="1.29"/><path d="M592.43 286.73H595.01L595.65 289.74H591.79Z" fill="#cfcfcf"/><path d="M676.59 286.81A16 16 0 1 1 699.21 286.81L695.26 282.86A10.9 10.9 0 1 0 678.44 284.96Z" fill="#b8c41b"/><path d="M688.54 273.87L677.43 285.54L677.86 285.97L689.53 274.86Z" fill="#6e6e6e"/><line x1="702.55" y1="289.1" x2="703.9" y2="289.1" stroke="#cfcfcf" stroke-width="1.5"/><line x1="702.07" y1="290.27" x2="703.02" y2="291.22" stroke="#cfcfcf" stroke-width="1.5"/><line x1="700.9" y1="290.75" x2="700.9" y2="292.1" stroke="#cfcfcf" stroke-width="1.5"/><line x1="699.73" y1="290.27" x2="698.78" y2="291.22" stroke="#cfcfcf" stroke-width="1.5"/><line x1="699.25" y1="289.1" x2="697.9" y2="289.1" stroke="#cfcfcf" stroke-width="1.5"/><line x1="699.73" y1="287.93" x2="698.78" y2="286.98" stroke="#cfcfcf" stroke-width="1.5"/><line x1="700.9" y1="287.45" x2="700.9" y2="286.1" stroke="#cfcfcf" stroke-width="1.5"/><line x1="702.07" y1="287.93" x2="703.02" y2="286.98" stroke="#cfcfcf" stroke-width="1.5"/><circle cx="700.9" cy="289.1" r="1.86" fill="none" stroke="#cfcfcf" stroke-width="1.2"/><path d="M706.75 286.52H711.05M708.9 286.52V292.11" stroke="#cfcfcf" stroke-width="1.29"/><path d="M707.61 286.73H710.19L710.84 289.74H706.97Z" fill="#cfcfcf"/><path d="M100.69 341.31A16 16 0 1 1 123.31 341.31L119.36 337.36A10.9 10.9 0 1 0 102.54 339.46Z" fill="#b8c41b"/><path d="M110.35 329.44L122.52 339.98L122.93 339.54L111.29 328.41Z" fill="#6e6e6e"/><line x1="126.65" y1="343.6" x2="128" y2="343.6" stroke="#cfcfcf" stroke-width="1.5"/><line x1="126.17" y1="344.77" x2="127.12" y2="345.72" stroke="#cfcfcf" stroke-width="1.5"/><line x1="125" y1="345.25" x2="125" y2="346.6" stroke="#cfcfcf" stroke-width="1.5"/><line x1="123.83" y1="344.77" x2="122.88" y2="345.72" stroke="#cfcfcf" stroke-width="1.5"/><line x1="123.35" y1="343.6" x2="122" y2="343.6" stroke="#cfcfcf" stroke-width="1.5"/><line x1="123.83" y1="342.43" x2="122.88" y2="341.48" stroke="#cfcfcf" stroke-width="1.5"/><line x1="125" y1="341.95" x2="125" y2="340.6" stroke="#cfcfcf" stroke-width="1.5"/><line x1="126.17" y1="342.43" x2="127.12" y2="341.48" stroke="#cfcfcf" stroke-width="1.5"/><circle cx="125" cy="343.6" r="1.86" fill="none" stroke="#cfcfcf" stroke-width="1.2"/><path d="M130.85 341.02H135.15M133 341.02V346.61" stroke="#cfcfcf" stroke-width="1.29"/><path d="M131.71 341.23H134.29L134.94 344.24H131.06Z" fill="#cfcfcf"/><path d="M215.87 341.31A16 16 0 1 1 238.49 341.31L234.54 337.36A10.9 10.9 0 1 0 217.72 339.46Z" fill="#b8c41b"/><path d="M227.82 328.37L216.71 340.04L217.14 340.47L228.81 329.36Z" fill="#6e6e6e"/><line x1="241.83" y1="343.6" x2="243.18" y2="343.6" stroke="#cfcfcf" stroke-width="1.5"/><line x1="241.35" y1="344.77" x2="242.3" y2="345.72" stroke="#cfcfcf" stroke-width="1.5"/><line x1="240.18" y1="345.25" x2="240.18" y2="346.6" stroke="#cfcfcf" stroke-width="1.5"/><line x1="239.01" y1="344.77" x2="238.06" y2="345.72" stroke="#cfcfcf" stroke-width="1.5"/><line x1="238.53" y1="343.6" x2="237.18" y2="343.6" stroke="#cfcfcf" stroke-width="1.5"/><line x1="239.01" y1="342.43" x2="238.06" y2="341.48" stroke="#cfcfcf" stroke-width="1.5"/><line x1="240.18" y1="341.95" x2="240.18" y2="340.6" stroke="#cfcfcf" stroke-width="1.5"/><line x1="241.35" y1="342.43" x2="242.3" y2="341.48" stroke="#cfcfcf" stroke-width="1.5"/><circle cx="240.18" cy="343.6" r="1.86" fill="none" stroke="#cfcfcf" stroke-width="1.2"/><path d="M246.03 341.02H250.33M248.18 341.02V346.61" stroke="#cfcfcf" stroke-width="1.29"/><path d="M246.89 341.23H249.47L250.12 344.24H246.25Z" fill="#cfcfcf"/><path d="M84.8 406.2H90L87.4 408.9Z" fill="#1f2a44"/><path d="M201.8 404.2L204.6 401L207.4 404.2Z" fill="#c2c2c2"/><path d="M201.8 405.6L204.6 408.8L207.4 405.6Z" fill="#c2c2c2"/><path d="M269.5 416.2L272.3 413L275.1 416.2Z" fill="#c2c2c2"/><path d="M269.5 417.6L272.3 420.8L275.1 417.6Z" fill="#c2c2c2"/><path d="M435.2 404.2L438 401L440.8 404.2Z" fill="#c2c2c2"/><path d="M435.2 405.6L438 408.8L440.8 405.6Z" fill="#c2c2c2"/><path d="M600 404.2L602.8 401L605.6 404.2Z" fill="#c2c2c2"/><path d="M600 405.6L602.8 408.8L605.6 405.6Z" fill="#c2c2c2"/><circle cx="663.9" cy="440.4" r="2.4" fill="none" stroke="#333" stroke-width="1.5"/><circle cx="659.7" cy="444.8" r="1.5" fill="none" stroke="#444" stroke-width="1.1"/><circle cx="663.9" cy="465.64" r="2.4" fill="none" stroke="#333" stroke-width="1.5"/><circle cx="659.7" cy="470.04" r="1.5" fill="none" stroke="#444" stroke-width="1.1"/><circle cx="663.9" cy="490.88" r="2.4" fill="none" stroke="#333" stroke-width="1.5"/><circle cx="659.7" cy="495.28" r="1.5" fill="none" stroke="#444" stroke-width="1.1"/><circle cx="663.9" cy="516.12" r="2.4" fill="none" stroke="#333" stroke-width="1.5"/><circle cx="659.7" cy="520.52" r="1.5" fill="none" stroke="#444" stroke-width="1.1"/><circle cx="663.9" cy="541.36" r="2.4" fill="none" stroke="#333" stroke-width="1.5"/><circle cx="659.7" cy="545.76" r="1.5" fill="none" stroke="#444" stroke-width="1.1"/><circle cx="663.9" cy="566.6" r="2.4" fill="none" stroke="#333" stroke-width="1.5"/><circle cx="659.7" cy="571" r="1.5" fill="none" stroke="#444" stroke-width="1.1"/><circle cx="663.9" cy="591.84" r="2.4" fill="none" stroke="#333" stroke-width="1.5"/><circle cx="659.7" cy="596.24" r="1.5" fill="none" stroke="#444" stroke-width="1.1"/><circle cx="663.9" cy="617.08" r="2.4" fill="none" stroke="#333" stroke-width="1.5"/><circle cx="659.7" cy="621.48" r="1.5" fill="none" stroke="#444" stroke-width="1.1"/></svg>
</body></html>
